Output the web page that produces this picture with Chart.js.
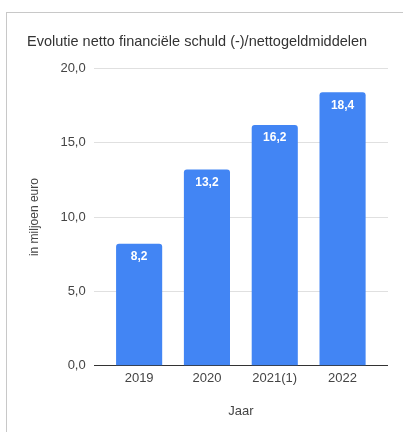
<!DOCTYPE html>
<html>
<head>
<meta charset="utf-8">
<script src="https://cdn.jsdelivr.net/npm/chart.js@4/dist/chart.umd.min.js"></script>
<style>
  html, body { margin: 0; padding: 0; background: #fff; overflow: hidden; }
  .frame { position: absolute; left: 6px; top: 12px; width: 420px; height: 440px; border: 1px solid #c8c8c8; }
  .wrap { position: absolute; left: 0; top: 0; width: 403px; height: 432px; }
</style>
</head>
<body>
<div class="frame"></div>
<div class="wrap"><canvas id="c"></canvas></div>
<script>
const years = ['2019', '2020', '2021(1)', '2022'];
const values = [8.2, 13.2, 16.2, 18.4];
const yTicks = [0, 5, 10, 15, 20];

const fmt = v => v.toFixed(1).replace('.', ',');
const FONT = '"Liberation Sans", Arial, sans-serif';

// value labels inside the top of each bar
const barLabels = {
  id: 'barLabels',
  afterDatasetsDraw(chart) {
    const { ctx } = chart;
    ctx.save();
    ctx.fillStyle = '#ffffff';
    ctx.font = 'bold 12px ' + FONT;
    ctx.textAlign = 'center';
    ctx.textBaseline = 'middle';
    chart.getDatasetMeta(0).data.forEach((bar, i) => {
      ctx.fillText(fmt(values[i]), bar.x, bar.y + 13);
    });
    ctx.restore();
  }
};

new Chart(document.getElementById('c'), {
  type: 'bar',
  data: {
    datasets: [{
      data: values.map((v, i) => ({ x: i, y: v })),
      backgroundColor: '#4285f4',
      borderRadius: { topLeft: 3, topRight: 3 },
      borderSkipped: 'bottom',
      categoryPercentage: 1,
      barPercentage: 0.68
    }]
  },
  options: {
    responsive: true,
    maintainAspectRatio: false,
    animation: false,
    layout: { padding: { left: 27, right: 15, top: 33, bottom: 9 } },
    plugins: {
      legend: { display: false },
      tooltip: { enabled: false },
      title: {
        display: true,
        text: 'Evolutie netto financiële schuld (-)/nettogeldmiddelen',
        align: 'start',
        color: '#333',
        font: { family: FONT, size: 14.5, weight: 'normal' },
        padding: { top: 0, bottom: 18 }
      }
    },
    scales: {
      x: {
        type: 'linear',
        min: -0.67,
        max: 3.67,
        offset: false,
        afterBuildTicks: axis => { axis.ticks = years.map((y, i) => ({ value: i })); },
        grid: { display: false },
        border: { display: false },
        ticks: { color: '#444', font: { family: FONT, size: 13 }, padding: -3, callback: v => years[v] },
        title: { display: true, text: 'Jaar', color: '#444', font: { family: FONT, size: 13 }, padding: { top: 20 } }
      },
      y: {
        min: 0,
        max: 20,
        afterBuildTicks: axis => { axis.ticks = yTicks.map(v => ({ value: v })); },
        grid: {
          color: c => c.tick && c.tick.value === 0 ? '#333' : '#e0e0e0',
          drawTicks: false
        },
        border: { display: false },
        ticks: { color: '#444', font: { family: FONT, size: 13 }, padding: 8, callback: v => fmt(v) },
        title: { display: true, text: 'in miljoen euro', color: '#444', font: { family: FONT, size: 12 }, padding: { top: 0, bottom: 11 } }
      }
    }
  },
  plugins: [barLabels]
});
</script>
</body>
</html>
